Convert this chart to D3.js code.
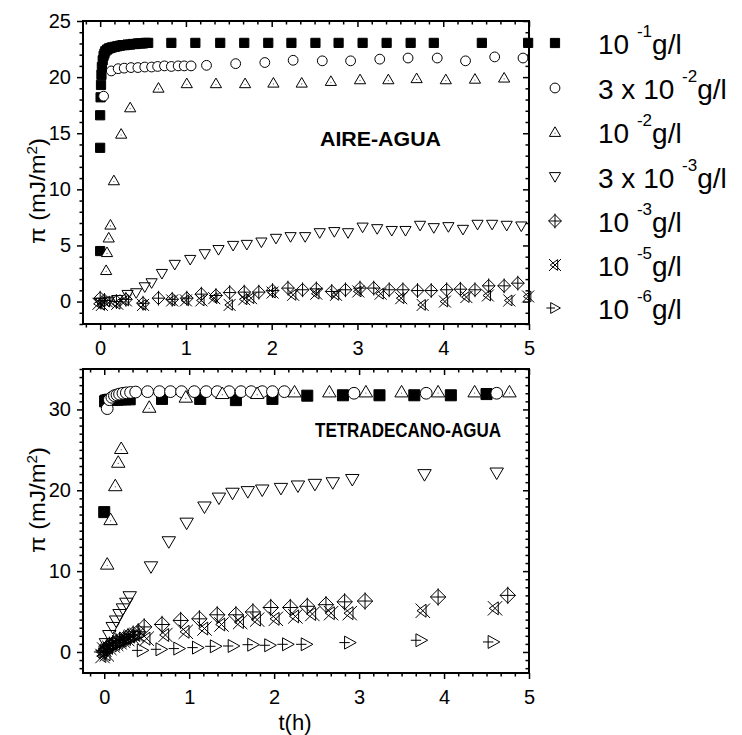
<!DOCTYPE html>
<html>
<head>
<meta charset="utf-8">
<script src="https://cdn.jsdelivr.net/npm/d3@7"></script>
<style>
  body { margin: 0; background: #fff; }
  text { font-family: "Liberation Sans", Arial, sans-serif; fill: #000; }
</style>
</head>
<body>
<div id="chart"></div>
<script>
// Legend labels (concentration), main part + exponent
var seriesNames = ["10", "3 x 10", "10", "3 x 10", "10", "10", "10"];
var seriesExps = ["-1", "-2", "-2", "-3", "-3", "-5", "-6"];
var seriesShapes = ["square", "circle", "up", "down", "diamond", "cross", "right"];

// ---- AIRE-AGUA panel: t(h) and pi values per series
var airT1 = [0, 0, 0, 0.005, 0.01, 0.015, 0.02, 0.03, 0.04, 0.05, 0.06, 0.08, 0.10, 0.12, 0.14, 0.17, 0.20, 0.23, 0.26, 0.29, 0.32, 0.35, 0.38, 0.41, 0.44, 0.47, 0.50, 0.53, 0.56, 0.83, 1.11, 1.40, 1.68, 1.96, 2.23, 2.51, 2.78, 3.06, 3.34, 3.62, 3.89, 4.45, 4.99];
var airP1 = [4.5, 13.7, 16.6, 18.2, 19.3, 20.2, 20.9, 21.5, 21.9, 22.1, 22.3, 22.45, 22.55, 22.6, 22.65, 22.7, 22.75, 22.8, 22.85, 22.85, 22.9, 22.9, 22.95, 22.95, 23.0, 23.0, 23.0, 23.05, 23.05, 23.05, 23.05, 23.05, 23.05, 23.05, 23.05, 23.05, 23.05, 23.05, 23.05, 23.05, 23.05, 23.05, 23.05];
var airT2 = [0.04, 0.13, 0.21, 0.28, 0.36, 0.44, 0.52, 0.60, 0.67, 0.75, 0.83, 0.91, 0.98, 1.06, 1.24, 1.58, 1.92, 2.25, 2.59, 2.92, 3.26, 3.59, 3.93, 4.26, 4.60, 4.93];
var airP2 = [18.3, 20.55, 20.75, 20.8, 20.85, 20.85, 20.9, 20.9, 20.95, 21.0, 20.95, 21.0, 21.0, 21.0, 21.05, 21.2, 21.3, 21.5, 21.45, 21.45, 21.6, 21.7, 21.7, 21.45, 21.8, 21.7];
var airT3 = [0.07, 0.08, 0.10, 0.12, 0.16, 0.245, 0.35, 0.68, 1.01, 1.35, 1.69, 2.02, 2.35, 2.69, 3.03, 3.36, 3.69, 4.03, 4.37, 4.71];
var airP3 = [2.8, 4.4, 5.7, 6.85, 10.8, 14.95, 17.3, 19.05, 19.45, 19.45, 19.45, 19.5, 19.5, 19.65, 19.8, 19.8, 19.9, 19.8, 19.85, 19.95];
var airT4 = [0.0, 0.1, 0.2, 0.32, 0.42, 0.52, 0.60, 0.72, 0.87, 1.05, 1.22, 1.38, 1.55, 1.71, 1.88, 2.05, 2.22, 2.39, 2.56, 2.73, 2.89, 3.06, 3.23, 3.40, 3.56, 3.73, 3.89, 4.06, 4.23, 4.40, 4.57, 4.74, 4.91];
var airP4 = [-0.1, 0.0, 0.15, 0.6, 0.75, 1.28, 1.64, 2.47, 3.28, 3.72, 4.23, 4.6, 4.97, 5.06, 5.27, 5.6, 5.75, 5.75, 6.1, 6.2, 6.1, 6.6, 6.46, 6.3, 6.3, 6.76, 6.55, 6.64, 6.4, 6.85, 6.85, 6.76, 6.7];
var airT5 = [0.0, 0.05, 0.19, 0.3, 0.5, 0.68, 0.84, 1.01, 1.18, 1.35, 1.51, 1.68, 1.85, 2.01, 2.19, 2.36, 2.52, 2.70, 2.86, 3.03, 3.19, 3.37, 3.53, 3.70, 3.86, 4.04, 4.20, 4.37, 4.53, 4.71, 4.87];
var airP5 = [0.3, 0.1, 0.0, 0.2, -0.15, 0.3, 0.2, 0.3, 0.66, 0.54, 0.8, 0.84, 0.84, 0.98, 1.2, 1.05, 1.13, 0.9, 1.05, 1.2, 1.2, 1.05, 1.05, 0.98, 0.98, 1.05, 1.1, 1.05, 1.4, 1.4, 1.64];
var airT6 = [-0.02, 0.02, 0.08, 0.2, 0.3, 0.5, 0.84, 1.0, 1.18, 1.33, 1.51, 1.68, 1.76, 2.01, 2.25, 2.52, 2.75, 3.01, 3.27, 3.51, 3.76, 4.02, 4.27, 4.52, 4.77, 4.99];
var airP6 = [-0.2, -0.3, 0.0, -0.2, 0.1, -0.3, 0.1, 0.1, 0.1, 0.3, -0.3, 0.2, 0.3, 0.8, 0.6, 0.7, 0.6, 0.9, 0.7, 0.3, -0.3, 0.0, 0.4, 0.54, 0.1, 0.45];

// ---- TETRADECANO-AGUA panel
var tetT1 = [0.0, 0.01, 0.02, 0.04, 0.06, 0.09, 0.12, 0.16, 0.20, 0.25, 0.30, 0.68, 1.13, 1.55, 1.98, 2.39, 2.81, 3.24, 3.65, 4.08, 4.50];
var tetP1 = [17.3, 31.0, 31.1, 31.15, 31.2, 31.2, 31.2, 31.2, 31.25, 31.25, 31.25, 31.3, 31.3, 31.15, 31.3, 31.7, 31.75, 31.75, 31.75, 31.75, 31.9];
var tetT2 = [0.035, 0.06, 0.09, 0.12, 0.15, 0.18, 0.22, 0.26, 0.31, 0.37, 0.51, 0.65, 0.78, 0.91, 1.06, 1.20, 1.33, 1.47, 1.61, 1.73, 1.86, 1.98, 2.12, 2.94, 3.79, 4.62];
var tetP2 = [30.1, 31.2, 31.5, 31.7, 31.8, 31.9, 32.0, 32.05, 32.1, 32.15, 32.2, 32.2, 32.2, 32.2, 32.2, 32.2, 32.2, 32.2, 32.2, 32.2, 32.2, 32.2, 32.2, 32.0, 32.0, 32.0];
var tetT3 = [0.035, 0.075, 0.13, 0.165, 0.2, 0.53, 0.96, 1.39, 1.80, 2.24, 2.65, 3.08, 3.50, 3.93, 4.36, 4.77];
var tetP3 = [10.9, 16.4, 20.6, 23.5, 25.2, 30.3, 31.55, 32.0, 32.0, 32.2, 32.2, 32.2, 32.2, 32.2, 32.2, 32.2];
var tetT4 = [0.02, 0.06, 0.10, 0.14, 0.18, 0.22, 0.26, 0.30, 0.55, 0.76, 0.97, 1.18, 1.35, 1.51, 1.69, 1.86, 2.08, 2.28, 2.48, 2.69, 2.92, 3.77, 4.62];
var tetP4 = [1.0, 2.0, 3.0, 3.8, 4.6, 5.3, 6.0, 6.8, 10.5, 13.6, 15.9, 17.9, 19.0, 19.6, 19.8, 20.0, 20.2, 20.5, 20.7, 20.9, 21.3, 21.9, 22.1];
var tetT5 = [0.0, 0.03, 0.06, 0.1, 0.14, 0.18, 0.23, 0.28, 0.34, 0.40, 0.47, 0.68, 0.90, 1.12, 1.33, 1.55, 1.75, 1.96, 2.19, 2.39, 2.61, 2.83, 3.07, 3.93, 4.75];
var tetP5 = [0.0, 0.4, 0.8, 1.0, 1.2, 1.4, 1.6, 1.9, 2.2, 2.5, 3.1, 3.4, 3.9, 4.1, 4.6, 4.6, 4.95, 5.5, 5.5, 5.65, 5.85, 6.2, 6.3, 6.8, 7.0];
var tetT6 = [-0.02, 0.0, 0.03, 0.06, 0.1, 0.14, 0.18, 0.22, 0.27, 0.32, 0.38, 0.50, 0.72, 0.96, 1.18, 1.38, 1.60, 1.80, 2.02, 2.25, 2.45, 2.67, 2.89, 3.75, 4.60];
var tetP6 = [-0.5, 0.3, -0.3, 0.5, 0.8, 1.0, 1.2, 1.4, 1.6, 1.9, 2.1, 1.65, 2.1, 2.5, 2.9, 3.4, 3.7, 4.0, 4.1, 4.4, 4.7, 4.8, 4.8, 5.1, 5.4];
var tetT7 = [0.0, 0.02, 0.05, 0.08, 0.12, 0.16, 0.2, 0.25, 0.3, 0.35, 0.40, 0.45, 0.67, 0.88, 1.10, 1.31, 1.52, 1.75, 1.95, 2.16, 2.38, 2.89, 3.73, 4.58];
var tetP7 = [0.0, 0.2, 0.4, 0.6, 0.8, 1.0, 1.2, 1.4, 1.6, 1.8, 2.0, 0.2, 0.33, 0.42, 0.54, 0.7, 0.74, 0.9, 0.83, 0.95, 0.95, 1.16, 1.45, 1.24];

// Tick labels
var xTicks = [0, 1, 2, 3, 4, 5];
var airYTicks = [0, 5, 10, 15, 20, 25];
var tetYTicks = [0, 10, 20, 30];

var svgWidth = 742;
var svgHeight = 735;

var svg = d3.select("#chart")
    .append("svg")
    .attr("width", svgWidth)
    .attr("height", svgHeight);

// build a marker path centred on 0,0; k scales it
function markerPath(shape, k) {
    var p = d3.path();
    if (shape == "square") {
        var s = 4.6 * k;
        p.rect(-s, -s, 2 * s, 2 * s);
    } else if (shape == "circle") {
        var r = 4.9 * k;
        p.moveTo(r, 0);
        p.arc(0, 0, r, 0, 2 * Math.PI);
    } else if (shape == "up") {
        p.moveTo(0, -5.2 * k);
        p.lineTo(5.6 * k, 4.4 * k);
        p.lineTo(-5.6 * k, 4.4 * k);
        p.closePath();
    } else if (shape == "down") {
        p.moveTo(0, 5.2 * k);
        p.lineTo(5.6 * k, -4.4 * k);
        p.lineTo(-5.6 * k, -4.4 * k);
        p.closePath();
    } else if (shape == "diamond") {
        var d = 6.4 * k;
        p.moveTo(0, -d); p.lineTo(d, 0); p.lineTo(0, d); p.lineTo(-d, 0); p.closePath();
        p.moveTo(0, -d - 1); p.lineTo(0, d + 1);
        p.moveTo(-d, 0); p.lineTo(d, 0);
    } else if (shape == "cross") {
        var c = 6 * k;
        p.moveTo(-c, -c); p.lineTo(c, c);
        p.moveTo(-c, c); p.lineTo(c, -c);
        p.moveTo(0.45 * c, -0.9 * c); p.lineTo(0.45 * c, 0.9 * c);
        p.lineTo(-0.8 * c, 0); p.closePath();
    } else if (shape == "right") {
        var t = 5.4 * k;
        p.moveTo(-0.8 * t, -t); p.lineTo(t, 0); p.lineTo(-0.8 * t, t); p.closePath();
        p.moveTo(-1.6 * t, 0); p.lineTo(0, 0);
    }
    return p.toString();
}

function drawMarkers(g, xs, ys, shape, xScale, yScale, k) {
    var pts = xs.map((t, i) => ({ t: t, p: ys[i] }));
    var sel = g.append("g").selectAll("g")
        .data(pts)
        .enter()
        .append("g")
        .attr("transform", d => `translate(${xScale(d.t)},${yScale(d.p)})`);
    sel.append("path")
        .attr("d", markerPath(shape, k))
        .attr("fill", shape == "square" ? "#000" : (shape == "circle" || shape == "up") ? "#fff" : "none")
        .attr("stroke", "#000")
        .attr("stroke-width", 1);
    if (shape == "up") {
        sel.append("circle").attr("cx", 0).attr("cy", 1.2 * k).attr("r", 0.6).attr("fill", "#555");
    }
}

function drawPanel(cfg) {
    var x = d3.scaleLinear().domain(cfg.xDomain).range([cfg.left, cfg.right]);
    var y = d3.scaleLinear().domain(cfg.yDomain).range([cfg.bottom, cfg.top]);
    var g = svg.append("g");

    var xMinor = d3.range(-6, 31).map(i => i / 6)
        .filter(v => v >= cfg.xDomain[0] && v <= cfg.xDomain[1] && Math.abs(v - Math.round(v)) > 0.01);
    var yMinor = d3.range(Math.ceil(cfg.yDomain[0]), Math.floor(cfg.yDomain[1]) + 1)
        .filter(v => cfg.yTicks.indexOf(v) < 0);

    // bottom axis (labels) and top mirror ticks
    g.append("g").attr("class", "axis")
        .attr("transform", `translate(0,${cfg.bottom})`)
        .call(d3.axisBottom(x).tickValues(xTicks).tickSize(6).tickPadding(11).tickFormat(d3.format("d")));
    g.append("g").attr("class", "axis")
        .attr("transform", `translate(0,${cfg.bottom})`)
        .call(d3.axisBottom(x).tickValues(xMinor).tickSize(3.5).tickFormat(""));
    g.append("g").attr("class", "axis")
        .attr("transform", `translate(0,${cfg.top})`)
        .call(d3.axisBottom(x).tickValues(xTicks).tickSize(6).tickFormat(""));
    g.append("g").attr("class", "axis")
        .attr("transform", `translate(0,${cfg.top})`)
        .call(d3.axisBottom(x).tickValues(xMinor).tickSize(3.5).tickFormat(""));

    // left axis (labels) and right mirror ticks
    g.append("g").attr("class", "axis")
        .attr("transform", `translate(${cfg.left},0)`)
        .call(d3.axisLeft(y).tickValues(cfg.yTicks).tickSize(6).tickPadding(6));
    g.append("g").attr("class", "axis")
        .attr("transform", `translate(${cfg.left},0)`)
        .call(d3.axisLeft(y).tickValues(yMinor).tickSize(3.5).tickFormat(""));
    g.append("g").attr("class", "axis")
        .attr("transform", `translate(${cfg.right},0)`)
        .call(d3.axisLeft(y).tickValues(cfg.yTicks).tickSize(6).tickFormat(""));
    g.append("g").attr("class", "axis")
        .attr("transform", `translate(${cfg.right},0)`)
        .call(d3.axisLeft(y).tickValues(yMinor).tickSize(3.5).tickFormat(""));

    g.selectAll(".axis .domain").remove();
    g.selectAll(".axis line").attr("stroke", "#000").attr("stroke-width", 1.5);
    g.selectAll(".axis text")
        .style("font-family", "'Liberation Sans', Arial, sans-serif")
        .style("font-size", "20px")
        .attr("fill", "#000");

    // frame
    g.append("rect")
        .attr("x", cfg.left).attr("y", cfg.top)
        .attr("width", cfg.right - cfg.left).attr("height", cfg.bottom - cfg.top)
        .attr("fill", "none").attr("stroke", "#000").attr("stroke-width", 2);

    // series
    cfg.series.forEach((s, i) => {
        drawMarkers(g, s[0], s[1], seriesShapes[i], x, y, cfg.k);
    });

    // panel title
    g.append("text")
        .attr("x", cfg.labelX).attr("y", cfg.labelY)
        .attr("textLength", cfg.labelW).attr("lengthAdjust", "spacingAndGlyphs")
        .style("font-size", "20px").style("font-weight", "bold")
        .text(cfg.label);

    // y axis label
    var yl = g.append("text")
        .attr("transform", `translate(${cfg.yLabelX},${cfg.yLabelY}) rotate(-90)`)
        .attr("text-anchor", "middle")
        .attr("textLength", 106).attr("lengthAdjust", "spacingAndGlyphs")
        .style("font-size", "22px");
    yl.append("tspan").text("\u03c0 (mJ/m");
    yl.append("tspan").attr("dy", -8).style("font-size", "14px").text("2");
    yl.append("tspan").attr("dy", 8).text(")");
}

drawPanel({
    xDomain: [-0.2, 5], yDomain: [-2, 25],
    left: 83, right: 529, top: 21, bottom: 324,
    yTicks: airYTicks, k: 1,
    series: [[airT1, airP1], [airT2, airP2], [airT3, airP3], [airT4, airP4], [airT5, airP5], [airT6, airP6]],
    label: "AIRE-AGUA", labelX: 320, labelY: 146, labelW: 121,
    yLabelX: 45, yLabelY: 191
});

drawPanel({
    xDomain: [-0.25, 5], yDomain: [-2.6, 35],
    left: 83, right: 529, top: 369, bottom: 673,
    yTicks: tetYTicks, k: 1.2,
    series: [[tetT1, tetP1], [tetT2, tetP2], [tetT3, tetP3], [tetT4, tetP4], [tetT5, tetP5], [tetT6, tetP6], [tetT7, tetP7]],
    label: "TETRADECANO-AGUA", labelX: 315, labelY: 437, labelW: 186,
    yLabelX: 45, yLabelY: 500
});

// x axis title
svg.append("text")
    .attr("x", 295).attr("y", 730)
    .attr("text-anchor", "middle")
    .style("font-size", "22px")
    .text("t(h)");

// Legend
var legendY = [43, 88, 132, 177, 221, 265, 308];
var legend = svg.append("g");
seriesNames.forEach((name, i) => {
    var row = legend.append("g").attr("transform", `translate(555,${legendY[i]})`);
    row.append("path")
        .attr("d", markerPath(seriesShapes[i], 1))
        .attr("fill", seriesShapes[i] == "square" ? "#000" : "none")
        .attr("stroke", "#000").attr("stroke-width", 1);
    if (seriesShapes[i] == "up") {
        row.append("circle").attr("cx", 0).attr("cy", 1.2).attr("r", 0.6).attr("fill", "#555");
    }
    var txt = row.append("text")
        .attr("x", 43).attr("y", 11)
        .style("font-size", "28px");
    txt.append("tspan").text(name + " ");
    txt.append("tspan").attr("dy", -17).style("font-size", "17px").text(seriesExps[i]);
    txt.append("tspan").attr("dy", 17).text("g/l");
});
</script>
</body>
</html>
